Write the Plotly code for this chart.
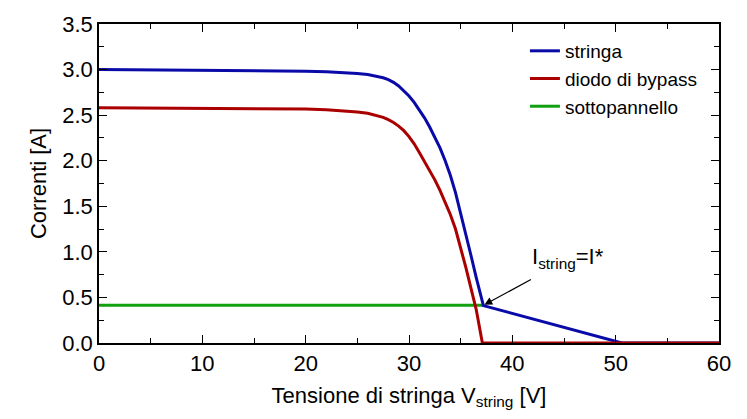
import plotly.graph_objects as go

# Current of the string (blue)
v_stringa = [0, 10, 17.5, 20, 22, 24, 25, 26, 27, 27.5, 28, 28.5, 29, 29.5, 30, 30.5,
             31, 31.5, 32, 32.5, 33, 33.5, 34, 34.5, 35, 35.5, 36, 36.5, 37.2, 50.6, 60]
i_stringa = [3.00, 2.995, 2.986, 2.982, 2.976, 2.967, 2.958, 2.945, 2.925, 2.91, 2.89,
             2.86, 2.82, 2.77, 2.71, 2.64, 2.56, 2.47, 2.37, 2.26, 2.14, 2.00, 1.84,
             1.65, 1.43, 1.20, 0.96, 0.72, 0.41, 0.0, 0.0]

# Current through the bypass diode (red)
v_bypass = [0, 10, 17.5, 20, 22, 24, 25, 26, 27, 27.5, 28, 28.5, 29, 29.5, 30, 30.5,
            31, 31.5, 32, 32.5, 33, 33.5, 34, 34.5, 35, 35.5, 36, 36.5, 37.1, 60]
i_bypass = [2.58, 2.578, 2.575, 2.568, 2.558, 2.545, 2.535, 2.52, 2.495, 2.475, 2.45,
            2.42, 2.38, 2.33, 2.265, 2.185, 2.09, 1.995, 1.895, 1.79, 1.675, 1.55, 1.41,
            1.25, 1.05, 0.83, 0.60, 0.37, 0.0, 0.0]

# Current of the shaded sub-panel (green)
v_sotto = [0, 37.2]
i_sotto = [0.413, 0.413]

# Operating point where I_string = I*
v_star = 37.3
i_star = 0.42

x_ticks = [0, 10, 20, 30, 40, 50, 60]
y_ticks = [0.0, 0.5, 1.0, 1.5, 2.0, 2.5, 3.0, 3.5]

FONT = "Liberation Sans, Arial, sans-serif"
BLUE = "#0a0aa8"
RED = "#aa0000"
GREEN = "#10a010"

fig = go.Figure()
fig.add_trace(go.Scatter(x=v_sotto, y=i_sotto, mode="lines", name="sottopannello",
                         line=dict(color=GREEN, width=3), legendrank=3))
fig.add_trace(go.Scatter(x=v_stringa, y=i_stringa, mode="lines", name="stringa",
                         line=dict(color=BLUE, width=3), legendrank=1))
fig.add_trace(go.Scatter(x=v_bypass, y=i_bypass, mode="lines", name="diodo di bypass",
                         line=dict(color=RED, width=3), legendrank=2))

axis_common = dict(
    showline=True, linecolor="black", linewidth=1.5, mirror="allticks",
    ticks="inside", ticklen=8, tickwidth=1.2, tickcolor="black",
    showgrid=False, zeroline=False,
    tickfont=dict(family=FONT, size=22, color="black"),
)

fig.update_layout(
    width=747, height=419,
    margin=dict(l=99, r=28, t=17, b=76),
    paper_bgcolor="white", plot_bgcolor="white",
    font=dict(family=FONT, color="black"),
    showlegend=True,
    legend=dict(x=0.687, y=0.975, xanchor="left", yanchor="top",
                bgcolor="rgba(0,0,0,0)", font=dict(family=FONT, size=19),
                tracegroupgap=0, itemwidth=30),
    xaxis=dict(range=[0, 60], tickvals=x_ticks,
               minor=dict(ticks="inside", dtick=5, ticklen=5, tickcolor="black", tickwidth=1.2),
               title=dict(text="Tensione di stringa V<sub>string</sub> [V]",
                          font=dict(family=FONT, size=22), standoff=12),
               **axis_common),
    yaxis=dict(range=[0, 3.5], tickvals=y_ticks, tickformat=".1f",
               minor=dict(ticks="inside", dtick=0.25, ticklen=5, tickcolor="black", tickwidth=1.2),
               title=dict(text="Correnti [A]", font=dict(family=FONT, size=22), standoff=10),
               **axis_common),
)

# Arrow pointing at the operating point
fig.add_annotation(x=v_star, y=i_star, xref="x", yref="y", text="",
                   showarrow=True, arrowhead=2, arrowsize=1.2, arrowwidth=1.3,
                   arrowcolor="black", ax=48, ay=-26)
fig.add_annotation(x=41.7, y=0.93, xref="x", yref="y", xanchor="left", yanchor="middle",
                   text="I<sub>string</sub>=I*", showarrow=False,
                   font=dict(family=FONT, size=22, color="black"))

fig.write_html("out.html")
